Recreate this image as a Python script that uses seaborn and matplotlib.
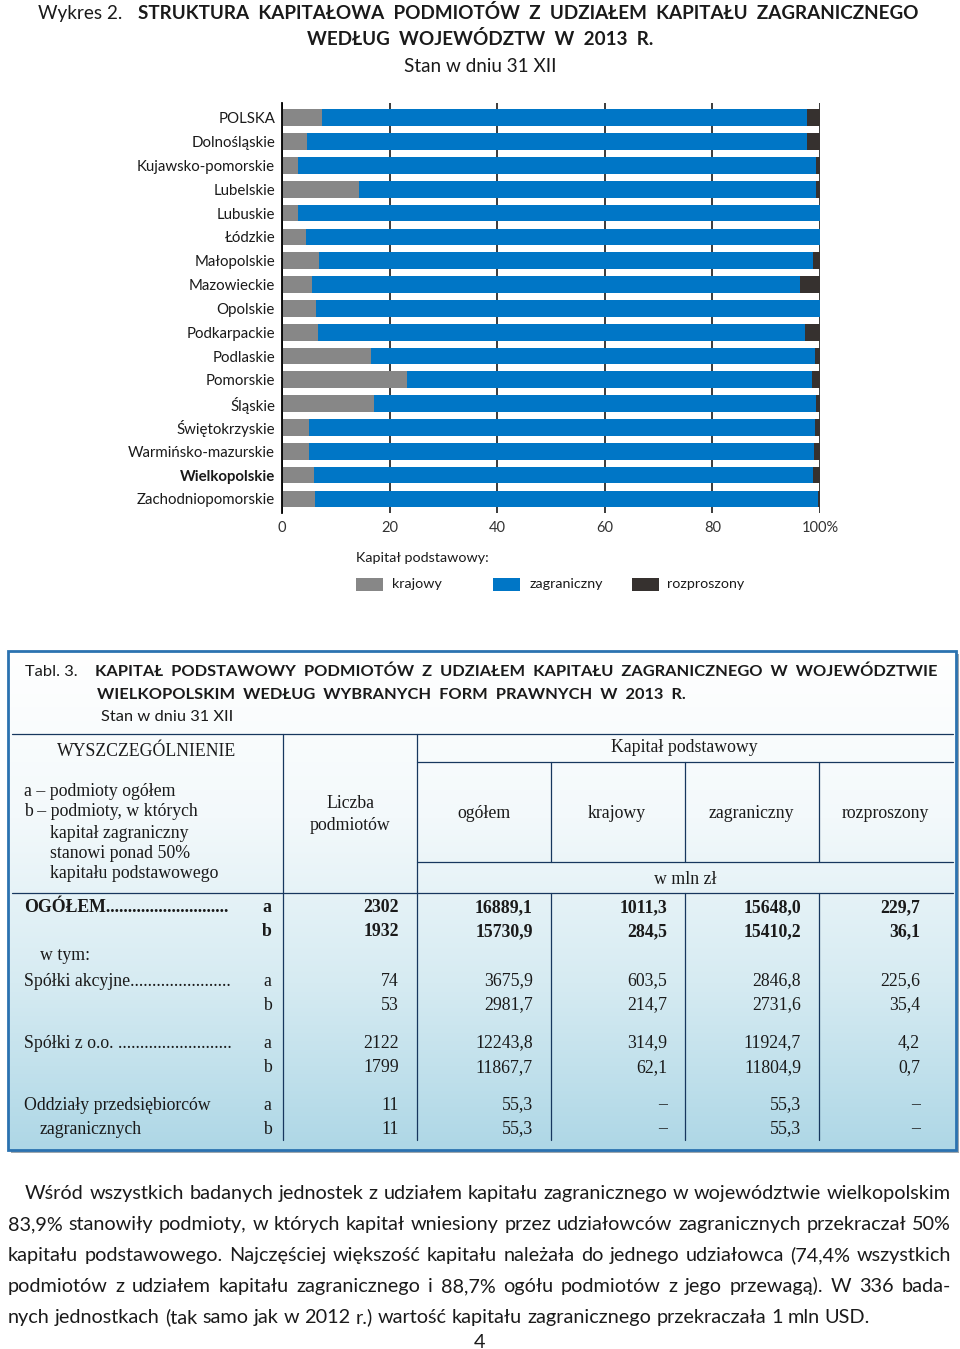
import numpy as np
import pandas as pd
import matplotlib.pyplot as plt
import seaborn as sns
from matplotlib.patches import Rectangle
from matplotlib.colors import LinearSegmentedColormap

# Wykres 2 - struktura kapitalowa (% kapitalu podstawowego, odczyt z rysunku)
regions = ['POLSKA', 'Dolnośląskie', 'Kujawsko-pomorskie', 'Lubelskie', 'Lubuskie', 'Łódzkie',
           'Małopolskie', 'Mazowieckie', 'Opolskie', 'Podkarpackie', 'Podlaskie', 'Pomorskie',
           'Śląskie', 'Świętokrzyskie', 'Warmińsko-mazurskie', 'Wielkopolskie', 'Zachodniopomorskie']
krajowy = [7.5, 4.6, 2.9, 14.4, 2.9, 4.4, 6.9, 5.6, 6.3, 6.6, 16.5, 23.3, 17.1, 5.0, 5.0, 6.0, 6.2]
zagraniczny = [90.1, 93.0, 96.4, 84.8, 97.1, 95.6, 91.8, 90.7, 93.7, 90.7, 82.5, 75.2, 82.1, 94.1, 93.8, 92.7, 93.5]
rozproszony = [2.4, 2.4, 0.7, 0.8, 0.0, 0.0, 1.3, 3.7, 0.0, 2.7, 1.0, 1.5, 0.8, 0.9, 1.2, 1.3, 0.3]
x_ticks = [0, 20, 40, 60, 80, 100]
x_labels = ['0', '20', '40', '60', '80', '100%']

# Tabl. 3 - kapital podstawowy w wojewodztwie wielkopolskim (mln zl)
tab_rows = ['OGÓŁEM', 'Spółki akcyjne', 'Spółki z o.o. ', 'Oddziały przedsiębiorców']
liczba = [(2302, 1932), (74, 53), (2122, 1799), (11, 11)]
ogolem = [(16889.1, 15730.9), (3675.9, 2981.7), (12243.8, 11867.7), (55.3, 55.3)]
kraj = [(1011.3, 284.5), (603.5, 214.7), (314.9, 62.1), (None, None)]
zagr = [(15648.0, 15410.2), (2846.8, 2731.6), (11924.7, 11804.9), (55.3, 55.3)]
rozp = [(229.7, 36.1), (225.6, 35.4), (4.2, 0.7), (None, None)]

paragraph = [
    'Wśród wszystkich badanych jednostek z udziałem kapitału zagranicznego w województwie wielkopolskim',
    '83,9% stanowiły podmioty, w których kapitał wniesiony przez udziałowców zagranicznych przekraczał 50%',
    'kapitału podstawowego. Najczęściej większość kapitału należała do jednego udziałowca (74,4% wszystkich',
    'podmiotów z udziałem kapitału zagranicznego i 88,7% ogółu podmiotów z jego przewagą). W 336 bada-',
    'nych jednostkach (tak samo jak w 2012 r.) wartość kapitału zagranicznego przekraczała 1 mln USD.',
]

GREY, BLUE, DARK = '#878787', '#0076c6', '#36312f'
SANS = ['Lato', 'DejaVu Sans']
SERIF = ['Liberation Serif', 'DejaVu Serif']
INK = '#1a1a1a'

sns.set_theme(style='white')
plt.rcParams['font.family'] = SANS

W, H = 960, 1349
fig = plt.figure(figsize=(W / 100, H / 100), dpi=100, facecolor='white')
ax = fig.add_axes([282 / W, 1 - 513 / H, 538 / W, 410 / H])
ov = fig.add_axes([0, 0, 1, 1], zorder=5)
ov.patch.set_alpha(0)
renderer = fig.canvas.get_renderer()


def put(x, y, s, size=11, ha='left', weight='normal', family=SANS, color=INK, va='center'):
    return ov.text(x, y, s, fontsize=size, ha=ha, va=va, fontweight=weight,
                   family=family, color=color)


def width(t):
    return t.get_window_extent(renderer).width


def fit(t, w):
    for _ in range(2):
        t.set_fontsize(t.get_fontsize() * w / width(t))
    return t.get_fontsize()


def leader(x, y, label, x_end, **kw):
    t = put(x, y, label, **kw)
    s = label
    while width(t) < x_end - x:
        s += '.'
        t.set_text(s)
    return t


# ---------- wykres ----------
df = pd.DataFrame({'region': regions, 'krajowy': krajowy,
                   'zagraniczny': zagraniczny, 'rozproszony': rozproszony})
df['k'] = df['krajowy']
df['kz'] = df['k'] + df['zagraniczny']
df['kzr'] = df['kz'] + df['rozproszony']
for col, color in [('kzr', DARK), ('kz', BLUE), ('k', GREY)]:
    sns.barplot(data=df, x=col, y='region', color=color, width=0.7, saturation=1,
                errorbar=None, linewidth=0, ax=ax)

ax.set_xlim(0, 100)
ax.set_ylim(16.59, -0.62)
ax.set_xticks(x_ticks, x_labels)
ax.set_xlabel('')
ax.set_ylabel('')
ax.set_axisbelow(True)
ax.xaxis.grid(True, color='#1a1a1a', lw=1.2)
ax.yaxis.grid(False)
sns.despine(ax=ax, top=True, right=True, bottom=True, left=False)
ax.spines['left'].set_color('black')
ax.spines['left'].set_linewidth(1.3)
ax.tick_params(axis='x', length=0, pad=6, labelsize=10.5, labelcolor='#333333')
ax.tick_params(axis='y', length=0, pad=5, labelsize=10.8, labelcolor=INK)
for lbl in ax.get_yticklabels():
    if lbl.get_text() == 'Wielkopolskie':
        lbl.set_fontweight('bold')

# tytul wykresu
t_bold = put(138, 13, 'STRUKTURA  KAPITAŁOWA  PODMIOTÓW  Z  UDZIAŁEM  KAPITAŁU  ZAGRANICZNEGO',
             weight='bold')
ts = fit(t_bold, 780)
put(38, 13, 'Wykres 2.', size=ts)
put(480, 39, 'WEDŁUG  WOJEWÓDZTW  W  2013  R.', size=ts, ha='center', weight='bold')
put(480, 66, 'Stan w dniu 31 XII', size=ts, ha='center')

# legenda
t_leg = put(356, 558, 'Kapitał podstawowy:')
ls = fit(t_leg, 132)
for px, lx, name, color in [(356, 392, 'krajowy', GREY), (493, 530, 'zagraniczny', BLUE),
                            (632, 667, 'rozproszony', DARK)]:
    ov.add_patch(Rectangle((px, 578), 27, 13, fc=color, ec='none'))
    put(lx, 584, name, size=ls)

# ---------- tabela ----------
bx0, by0, bx1, by1 = 8, 651, 956, 1150
ov.add_patch(Rectangle((bx0 + 3, by0 + 3), bx1 - bx0, by1 - by0, fc='#9ea7ae', ec='none', zorder=0))
cmap = LinearSegmentedColormap.from_list('tab', ['#ffffff', '#f3f9fb', '#d6ebf2', '#aed7e6'])
grad = np.linspace(0, 1, 256).reshape(-1, 1)
ov.imshow(grad, extent=[bx0, bx1, by1, by0], aspect='auto', cmap=cmap, zorder=1)
ov.add_patch(Rectangle((bx0, by0), bx1 - bx0, by1 - by0, fill=False, ec='#2b72b0', lw=2, zorder=3))

t_tb = put(95, 672, 'KAPITAŁ  PODSTAWOWY  PODMIOTÓW  Z  UDZIAŁEM  KAPITAŁU  ZAGRANICZNEGO  W  WOJEWÓDZTWIE',
           weight='bold')
tbs = fit(t_tb, 842)
put(25, 672, 'Tabl. 3.', size=tbs)
put(97, 695, 'WIELKOPOLSKIM  WEDŁUG  WYBRANYCH  FORM  PRAWNYCH  W  2013  R.', size=tbs, weight='bold')
put(101, 717, 'Stan w dniu 31 XII', size=tbs)

LC = '#17375e'
hl = [(734, 12, 953), (762, 417, 953), (862, 417, 953), (893, 12, 953)]
for y, x0, x1 in hl:
    ov.plot([x0, x1], [y, y], color=LC, lw=0.9, zorder=4)
for x in [283, 417]:
    ov.plot([x, x], [734, 1140], color=LC, lw=0.9, zorder=4)
for x in [551, 685, 819]:
    ov.plot([x, x], [762, 862], color=LC, lw=0.9, zorder=4)
    ov.plot([x, x], [893, 1140], color=LC, lw=0.9, zorder=4)

FS = 12.8
put(147, 752, 'WYSZCZEGÓLNIENIE', size=FS, ha='center', family=SERIF)
for x, y, s in [(24, 791, 'a – podmioty ogółem'), (24, 812, 'b – podmioty, w których'),
                (50, 833, 'kapitał zagraniczny'), (50, 853, 'stanowi ponad 50%'),
                (50, 874, 'kapitału podstawowego')]:
    put(x, y, s, size=FS, family=SERIF)
put(350, 803, 'Liczba', size=FS, ha='center', family=SERIF)
put(350, 825, 'podmiotów', size=FS, ha='center', family=SERIF)
put(684, 747, 'Kapitał podstawowy', size=FS, ha='center', family=SERIF)
for x, s in [(484, 'ogółem'), (617, 'krajowy'), (751, 'zagraniczny'), (885, 'rozproszony')]:
    put(x, 813, s, size=FS, ha='center', family=SERIF)
put(685, 879, 'w mln zł', size=FS, ha='center', family=SERIF)


def fmt(v, dec=True):
    if v is None:
        return '–'
    return f'{v:.1f}'.replace('.', ',') if dec else str(v)


row_y = [(908, 932), (981, 1005), (1043, 1068), (1105, 1129)]
col_right = [399, 533, 667, 801, 920]
for i, name in enumerate(tab_rows):
    wt = 'bold' if i == 0 else 'normal'
    ya, yb = row_y[i]
    if i < 3:
        leader(24, ya, name, 228, size=FS, family=SERIF, weight=wt)
    else:
        put(24, ya, name, size=FS, family=SERIF)
        put(40, yb, 'zagranicznych', size=FS, family=SERIF)
    for k, y in enumerate([ya, yb]):
        put(267, y, 'ab'[k], size=FS, ha='center', family=SERIF, weight=wt)
        vals = [fmt(liczba[i][k], False), fmt(ogolem[i][k]), fmt(kraj[i][k]),
                fmt(zagr[i][k]), fmt(rozp[i][k])]
        for xr, s in zip(col_right, vals):
            put(xr, y, s, size=FS, ha='right', family=SERIF, weight=wt)
put(40, 955, 'w tym:', size=FS, family=SERIF)

# ---------- tekst pod tabela ----------
probe = put(0, 600, paragraph[1])
ps = fit(probe, 935)
p1 = put(0, 600, 'a a', size=ps)
p2 = put(0, 600, 'aa', size=ps)
space = width(p1) - width(p2)
for t in (probe, p1, p2):
    t.remove()

for j, line in enumerate(paragraph):
    y = 1199 + 31 * j
    x0 = 25 if j == 0 else 8
    words = line.split(' ')
    tw = [put(0, y, w, size=ps, va='baseline') for w in words]
    ww = [width(t) for t in tw]
    if j < len(paragraph) - 1:
        gap = (951 - x0 - sum(ww)) / (len(words) - 1)
    else:
        gap = space
    x = x0
    for t, w in zip(tw, ww):
        t.set_x(x)
        x += w + gap
put(480, 1342, '4', size=ps, ha='center')

ov.set_xlim(0, W)
ov.set_ylim(H, 0)
ov.axis('off')

fig.savefig('out.png', dpi=100)
